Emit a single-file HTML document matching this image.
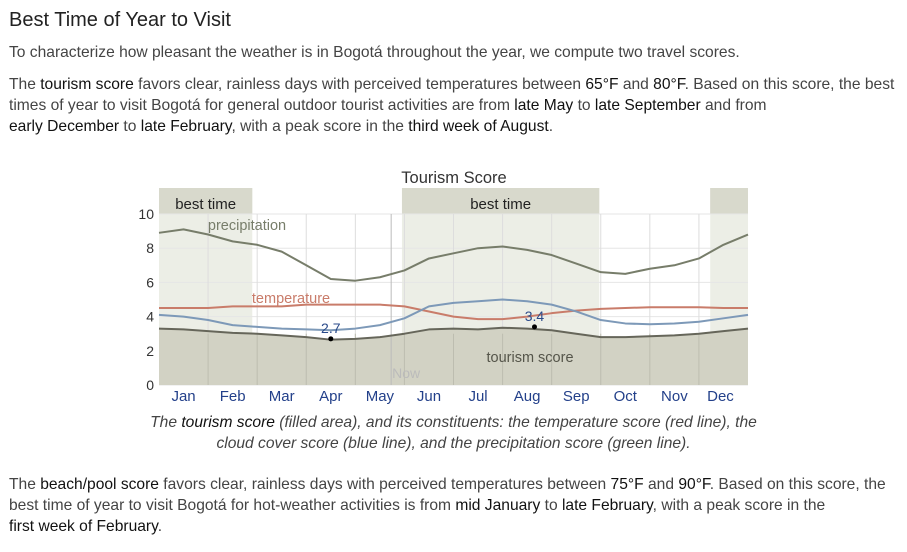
<!DOCTYPE html>
<html><head><meta charset="utf-8"><style>
body{margin:0;background:#fff;font-family:"Liberation Sans",sans-serif;color:#444;width:907px;height:552px;overflow:hidden;position:relative}
.t{position:absolute;left:9px;white-space:nowrap;font-size:15.6px;line-height:21px}
b{font-weight:normal;color:#111}
h1{position:absolute;left:9px;top:9px;margin:0;font-weight:normal;font-size:20px;color:#222}
.cap{position:absolute;left:0;width:907px;text-align:center;font-style:italic;font-size:15.6px;line-height:21px;color:#444;white-space:nowrap}
</style></head><body>
<h1>Best Time of Year to Visit</h1>
<div class="t" style="top:42px">To characterize how pleasant the weather is in Bogotá throughout the year, we compute two travel scores.</div>
<div class="t" style="top:74px">The <b>tourism score</b> favors clear, rainless days with perceived temperatures between <b>65°F</b> and <b>80°F</b>. Based on this score, the best<br>times of year to visit Bogotá for general outdoor tourist activities are from <b>late May</b> to <b>late September</b> and from<br><b>early December</b> to <b>late February</b>, with a peak score in the <b>third week of August</b>.</div>
<svg id="chart" style="position:absolute;left:0;top:160px" width="907" height="250"></svg>
<div class="cap" style="top:412px">The <b>tourism score</b> (filled area), and its constituents: the temperature score (red line), the<br>cloud cover score (blue line), and the precipitation score (green line).</div>
<div class="t" style="top:474px">The <b>beach/pool score</b> favors clear, rainless days with perceived temperatures between <b>75°F</b> and <b>90°F</b>. Based on this score, the<br>best time of year to visit Bogotá for hot-weather activities is from <b>mid January</b> to <b>late February</b>, with a peak score in the<br><b>first week of February</b>.</div>
<script>
const months=["Jan","Feb","Mar","Apr","May","Jun","Jul","Aug","Sep","Oct","Nov","Dec"];
const yTicks=[0,2,4,6,8,10];
const precip=[8.9,9.1,8.8,8.4,8.2,7.8,7.0,6.2,6.1,6.3,6.7,7.4,7.7,8.0,8.1,7.9,7.6,7.1,6.6,6.5,6.8,7.0,7.4,8.2,8.8];
const temp=[4.5,4.5,4.5,4.6,4.6,4.6,4.7,4.7,4.7,4.7,4.6,4.3,4.0,3.85,3.85,4.0,4.2,4.35,4.45,4.5,4.55,4.55,4.55,4.5,4.5];
const cloud=[4.1,4.0,3.8,3.5,3.4,3.3,3.25,3.2,3.3,3.5,3.9,4.6,4.8,4.9,5.0,4.9,4.7,4.3,3.8,3.6,3.55,3.6,3.7,3.9,4.1];
const tourism=[3.3,3.25,3.15,3.05,3.0,2.9,2.8,2.65,2.7,2.8,3.0,3.25,3.3,3.25,3.35,3.3,3.2,3.0,2.8,2.8,2.85,2.9,3.0,3.15,3.3];
const bestBands=[[0,1.9],[4.95,8.97],[11.23,12]];
const nowMonth=4.73;
const minPt={m:3.5,v:2.7,label:"2.7"}, maxPt={m:7.65,v:3.4,label:"3.4"};
const L=159,R=748,B=225,T=54,OT=28;
const X=m=>L+(R-L)*m/12;
const Y=v=>B-(B-T)*v/10;
const svg=document.getElementById('chart');const NS="http://www.w3.org/2000/svg";
function el(t,a,p){const e=document.createElementNS(NS,t);for(const k in a)e.setAttribute(k,a[k]);(p||svg).appendChild(e);return e}
function tx(x,y,s,a){const e=el('text',Object.assign({x:x,y:y,'font-family':'Liberation Sans, sans-serif','font-size':15},a));e.textContent=s;return e}
const ct=tx(454,23,"Tourism Score",{'text-anchor':'middle','font-size':16.5,fill:'#333'});

bestBands.forEach(b=>{const x1=X(b[0]),x2=Math.min(X(b[1]),R);
 const r=el('rect',{x:x1,y:OT,width:x2-x1,height:B-OT,fill:'#eceee6'});
 
 
 el('rect',{x:x1,y:OT,width:x2-x1,height:T-OT,fill:'#d8d9cc'});
 if(x2-x1>60){const t=tx((x1+x2)/2,49,"best time",{'text-anchor':'middle',fill:'#222'});
 }
});
yTicks.forEach(v=>{el('line',{x1:L,x2:R,y1:Y(v),y2:Y(v),stroke:'#e6e6e6'});
 const t=tx(154,Y(v)+5,String(v),{'text-anchor':'end',fill:'#333','font-size':14});
 });
for(let i=1;i<12;i++)el('line',{x1:X(i),x2:X(i),y1:T,y2:B,stroke:'#ddd'});
const pts=a=>a.map((v,i)=>X(i/2)+','+Y(v)).join(' ');
const area=el('polygon',{points:X(0)+','+Y(0)+' '+pts(tourism)+' '+X(12)+','+Y(0),fill:'#d2d2c4'});


for(let i=1;i<12;i++)el('line',{x1:X(i),x2:X(i),y1:B,y2:Y(3),stroke:'#bdbdb0'});
const nl=el('line',{x1:X(nowMonth),x2:X(nowMonth),y1:T,y2:B,stroke:'#bbb'});

tx(X(nowMonth)+15,218,"Now",{'text-anchor':'middle',fill:'#bbb','font-size':14});
[[precip,'#777d6a','precipitation-line'],[temp,'#c97c6a','temperature-line'],[cloud,'#7d99b8','cloud-line'],[tourism,'#66665a','tourism-score-line']].forEach(s=>{
 const p=el('polyline',{points:pts(s[0]),fill:'none',stroke:s[1],'stroke-width':2,'stroke-linejoin':'round'});
 
 });
tx(247,70,"precipitation",{'text-anchor':'middle',fill:'#777d6a','font-size':14.5});
tx(291,143,"temperature",{'text-anchor':'middle',fill:'#c97c6a','font-size':14.5});
tx(530,202,"tourism score",{'text-anchor':'middle',fill:'#55554a','font-size':14.5});
[minPt,maxPt].forEach(p=>{el('circle',{cx:X(p.m),cy:Y(p.v),r:2.5,fill:'#000'});
 tx(X(p.m),Y(p.v)-6,p.label,{'text-anchor':'middle',fill:'#2a4a8a','font-size':14});});
months.forEach((m,i)=>{const t=tx(X(i+0.5)-(i==11?3:0),241,m,{'text-anchor':'middle',fill:'#23408a','font-size':15});
 });
</script>
</body></html>
